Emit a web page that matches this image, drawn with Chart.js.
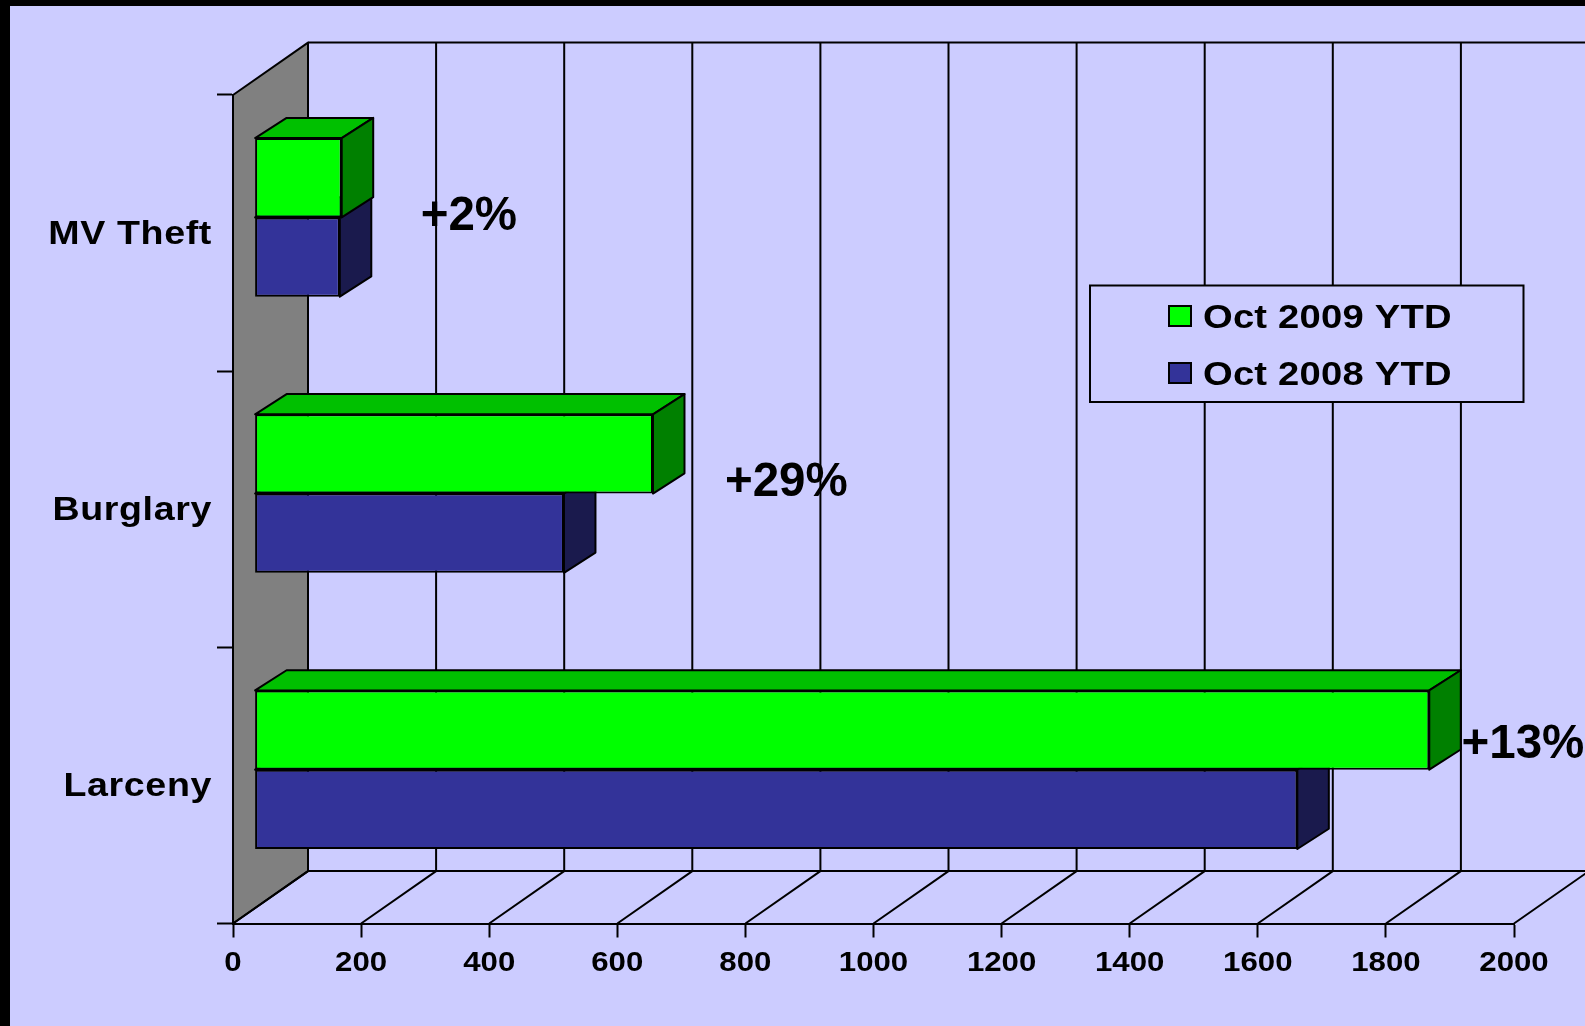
<!DOCTYPE html>
<html>
<head>
<meta charset="utf-8">
<title>Oct YTD</title>
<script src="https://cdn.jsdelivr.net/npm/chart.js@4"></script>
<style>
    html, body { margin: 0; padding: 0; background: #ccccff; overflow: hidden; }
    canvas { position: absolute; left: 0; top: 0; }
    .edge { position: fixed; left: 0; top: 0; background: #000; }
    #edgeTop { width: 100%; height: 6px; }
    #edgeLeft { width: 10px; height: 100%; }
</style>
</head>
<body>
<canvas id="chart" width="1585" height="1026"></canvas>
<div class="edge" id="edgeTop"></div>
<div class="edge" id="edgeLeft"></div>
<script>
const categories = ['MV Theft', 'Burglary', 'Larceny'];
const oct2009 = [136, 622, 1834];
const oct2008 = [133, 483, 1628];
const seriesNames = ['Oct 2009 YTD', 'Oct 2008 YTD'];
const changeLabels = ['+2%', '+29%', '+13%'];

const FONT = '"Liberation Sans", Arial, sans-serif';
const TEXT_STRETCH = 1.156; // the source slide was stretched sideways, text with it
const LINE = 2;
const WALL = { dx: 75, dy: 52.4 };     // depth of the whole plot box
const BAR_SHIFT = { dx: 21.6, dy: 15.7 }; // bars sit a bit behind the front plane
const BAR_DEPTH = { dx: 31.5, dy: 20.2 };

const faces = [
    { top: '#00c000', side: '#008000' },
    { top: '#262673', side: '#1a1a4d' },
];

// where the % notes sit: x in axis units, y relative to the category centre
const changeSpots = [
    { value: 293, dy: -3 },
    { value: 768, dy: -13 },
    { value: 1918, dy: -27 },
];

function poly(ctx, pts, fill) {
    ctx.beginPath();
    pts.forEach((p, i) => (i ? ctx.lineTo(p[0], p[1]) : ctx.moveTo(p[0], p[1])));
    ctx.closePath();
    if (fill) {
        ctx.fillStyle = fill;
        ctx.fill();
    }
    ctx.stroke();
}

function stretchedText(ctx, text, x, y, align) {
    ctx.save();
    ctx.translate(x, y);
    ctx.scale(TEXT_STRETCH, 1);
    ctx.textAlign = align;
    ctx.textBaseline = 'alphabetic';
    ctx.fillText(text, 0, 0);
    ctx.restore();
}

const box3d = {
    id: 'box3d',
    beforeDraw(chart) {
        const { ctx, chartArea: a, scales: { x } } = chart;
        ctx.save();
        ctx.strokeStyle = '#000';
        ctx.lineWidth = LINE;
        ctx.lineJoin = 'round';
        const backTop = a.top - WALL.dy;
        const backBottom = a.bottom - WALL.dy;

        poly(ctx, [
            [a.left, a.top],
            [a.left + WALL.dx, backTop],
            [a.left + WALL.dx, backBottom],
            [a.left, a.bottom],
        ], '#808080');

        ctx.beginPath();
        ctx.moveTo(a.left + WALL.dx, backTop);
        ctx.lineTo(chart.width, backTop);
        ctx.moveTo(a.left + WALL.dx, backBottom);
        ctx.lineTo(chart.width, backBottom);
        x.ticks.forEach((t) => {
            const px = x.getPixelForValue(t.value);
            ctx.moveTo(px + WALL.dx, backTop);
            ctx.lineTo(px + WALL.dx, backBottom);
            ctx.moveTo(px, a.bottom);
            ctx.lineTo(px + WALL.dx, backBottom);
        });
        ctx.stroke();
        ctx.restore();
    },
    beforeDatasetDraw(chart, args) {
        const { ctx } = chart;
        const face = faces[args.index];
        ctx.save();
        ctx.translate(BAR_SHIFT.dx, -BAR_SHIFT.dy);
        ctx.save();
        ctx.strokeStyle = '#000';
        ctx.lineWidth = LINE;
        ctx.lineJoin = 'round';
        args.meta.data.forEach((bar) => {
            const y0 = bar.y - bar.height / 2;
            const y1 = bar.y + bar.height / 2;
            const d = BAR_DEPTH;
            poly(ctx, [[bar.base, y0], [bar.base + d.dx, y0 - d.dy], [bar.x + d.dx, y0 - d.dy], [bar.x, y0]], face.top);
            poly(ctx, [[bar.x, y0], [bar.x + d.dx, y0 - d.dy], [bar.x + d.dx, y1 - d.dy], [bar.x, y1]], face.side);
        });
        ctx.restore();
    },
    afterDatasetDraw(chart) {
        chart.ctx.restore();
    },
    afterDraw(chart) {
        const { ctx, chartArea: a, scales: { x, y } } = chart;
        ctx.save();
        ctx.fillStyle = '#000';

        // axis labels
        ctx.font = `bold 27px ${FONT}`;
        x.ticks.forEach((t) => stretchedText(ctx, t.label, x.getPixelForValue(t.value), a.bottom + 47.5, 'center'));
        ctx.font = `bold 32.5px ${FONT}`;
        ctx.letterSpacing = '0.55px';
        y.ticks.forEach((t, i) => stretchedText(ctx, t.label, a.left - 21, y.getPixelForTick(i) + 10.5, 'right'));
        ctx.letterSpacing = '0px';

        // change notes
        ctx.font = `bold 47.5px ${FONT}`;
        ctx.textAlign = 'left';
        ctx.textBaseline = 'alphabetic';
        changeLabels.forEach((label, i) => {
            ctx.fillText(label, x.getPixelForValue(changeSpots[i].value), y.getPixelForTick(i) + changeSpots[i].dy);
        });

        // legend
        ctx.strokeStyle = '#000';
        ctx.lineWidth = LINE;
        ctx.fillStyle = '#ccccff';
        ctx.fillRect(1090, 285.5, 433.5, 116.5);
        ctx.strokeRect(1090, 285.5, 433.5, 116.5);
        chart.data.datasets.forEach((ds, i) => {
            const rowY = 316 + i * 57;
            ctx.fillStyle = ds.backgroundColor;
            ctx.fillRect(1169, rowY - 10, 22, 20);
            ctx.strokeRect(1169, rowY - 10, 22, 20);
            ctx.fillStyle = '#000';
            ctx.font = `bold 33px ${FONT}`;
            ctx.letterSpacing = '0.2px';
            stretchedText(ctx, ds.label, 1203, rowY + 12, 'left');
            ctx.letterSpacing = '0px';
        });
        ctx.restore();
    },
};

const zeroSize = (scale) => {
    if (scale.isHorizontal()) {
        scale.height = 0;
    } else {
        scale.width = 0;
    }
};

new Chart(document.getElementById('chart').getContext('2d'), {
    type: 'bar',
    data: {
        labels: categories,
        datasets: [
            { label: seriesNames[0], data: oct2009, backgroundColor: '#00ff00' },
            { label: seriesNames[1], data: oct2008, backgroundColor: '#333399' },
        ].map((ds) => ({
            ...ds,
            borderColor: '#000',
            borderWidth: LINE,
            borderSkipped: false,
            categoryPercentage: 0.574,
            barPercentage: 1,
            clip: false,
        })),
    },
    options: {
        indexAxis: 'y',
        responsive: false,
        animation: false,
        devicePixelRatio: 1,
        layout: { padding: { left: 233, top: 95, right: 71, bottom: 102.5 } },
        plugins: { legend: { display: false }, tooltip: { enabled: false } },
        scales: {
            x: {
                type: 'linear',
                min: 0,
                max: 2000,
                afterFit: zeroSize,
                ticks: { stepSize: 200, display: false, callback: (v) => String(v) },
                border: { color: '#000', width: LINE },
                grid: { drawOnChartArea: false, tickLength: 14, tickColor: '#000', tickWidth: LINE, color: '#000' },
            },
            y: {
                type: 'category',
                offset: true,
                afterFit: zeroSize,
                ticks: { display: false },
                border: { color: '#000', width: LINE },
                grid: { offset: true, drawOnChartArea: false, tickLength: 16, tickColor: '#000', tickWidth: LINE, color: '#000' },
            },
        },
    },
    plugins: [box3d],
});
</script>
</body>
</html>
